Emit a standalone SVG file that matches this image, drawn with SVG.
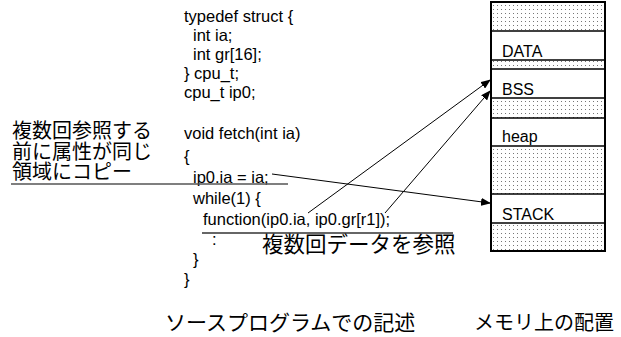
<svg xmlns="http://www.w3.org/2000/svg" width="621" height="337" viewBox="0 0 621 337">
<style>
.code{font-family:"Liberation Sans",Arial,sans-serif;font-size:16.5px;fill:#000}
.jp{font-family:"Liberation Sans","Noto Sans CJK JP",sans-serif;font-size:20px;fill:#000}
.mem{font-family:"Liberation Sans",Arial,sans-serif;font-size:16px;fill:#000}
.conn{stroke:#000;stroke-width:1;fill:none}
.div{stroke:#000;stroke-width:1.5}
</style>
<defs>
<pattern id="dots" width="4" height="4" patternUnits="userSpaceOnUse">
<rect x="1" y="1" width="1" height="1" fill="#777"/>
</pattern>
<marker id="arr" markerWidth="10" markerHeight="8" refX="9" refY="4" orient="auto" markerUnits="userSpaceOnUse">
<path d="M0,0 L10,4 L0,8 z" fill="#000"/>
</marker>
</defs>
<rect width="621" height="337" fill="#fff"/>
<g id="code">
<text class="code" x="184" y="22">typedef struct {</text>
<text class="code" x="193" y="41">int ia;</text>
<text class="code" x="193" y="60">int gr[16];</text>
<text class="code" x="184" y="79">} cpu_t;</text>
<text class="code" x="184" y="98">cpu_t ip0;</text>
<text class="code" x="184" y="139">void fetch(int ia)</text>
<text class="code" x="184" y="162">{</text>
<text class="code" x="193" y="183">ip0.ia = ia;</text>
<text class="code" x="193" y="204">while(1) {</text>
<text class="code" x="203" y="225">function(ip0.ia, ip0.gr[r1]);</text>
<text class="code" x="212" y="245">:</text>
<text class="code" x="193" y="265">}</text>
<text class="code" x="184" y="285">}</text>
</g>
<g id="note-copy">
<text class="jp" x="12" y="138">複数回参照する</text>
<text class="jp" x="12" y="159">前に属性が同じ</text>
<text class="jp" x="12" y="179">領域にコピー</text>
<line x1="11" y1="184" x2="288" y2="184" stroke="#555" stroke-width="1.6"/>
</g>
<g id="note-ref">
<line x1="202" y1="233" x2="453" y2="233" stroke="#333" stroke-width="1.4"/>
<text class="jp" x="262" y="252" style="font-size:21.5px">複数回データを参照</text>
</g>
<g id="memory">
<rect x="491" y="2" width="114" height="29" fill="url(#dots)"/>
<rect x="491" y="60" width="114" height="9" fill="url(#dots)"/>
<rect x="491" y="98" width="114" height="20" fill="url(#dots)"/>
<rect x="491" y="146" width="114" height="48" fill="url(#dots)"/>
<rect x="491" y="223" width="114" height="28" fill="url(#dots)"/>
<line class="div" x1="491" y1="31" x2="605" y2="31"/>
<line class="div" x1="491" y1="60" x2="605" y2="60"/>
<line class="div" x1="491" y1="69" x2="605" y2="69"/>
<line class="div" x1="491" y1="98" x2="605" y2="98"/>
<line class="div" x1="491" y1="118" x2="605" y2="118"/>
<line class="div" x1="491" y1="146" x2="605" y2="146"/>
<line class="div" x1="491" y1="194" x2="605" y2="194"/>
<line class="div" x1="491" y1="223" x2="605" y2="223"/>
<rect x="491" y="2" width="114" height="249" fill="none" stroke="#000" stroke-width="2"/>
<text class="mem" x="502" y="57">DATA</text>
<text class="mem" x="502" y="95">BSS</text>
<text class="mem" x="502" y="142">heap</text>
<text class="mem" x="502" y="220">STACK</text>
</g>
<g id="connectors">
<line class="conn" x1="272" y1="174" x2="490" y2="203" marker-end="url(#arr)"/>
<line class="conn" x1="308" y1="213" x2="490" y2="80" marker-end="url(#arr)"/>
<line class="conn" x1="385" y1="213" x2="490" y2="91" marker-end="url(#arr)"/>
</g>
<g id="captions">
<text class="jp" x="165" y="330" style="font-size:21px">ソースプログラムでの記述</text>
<text class="jp" x="474" y="330">メモリ上の配置</text>
</g>
</svg>
